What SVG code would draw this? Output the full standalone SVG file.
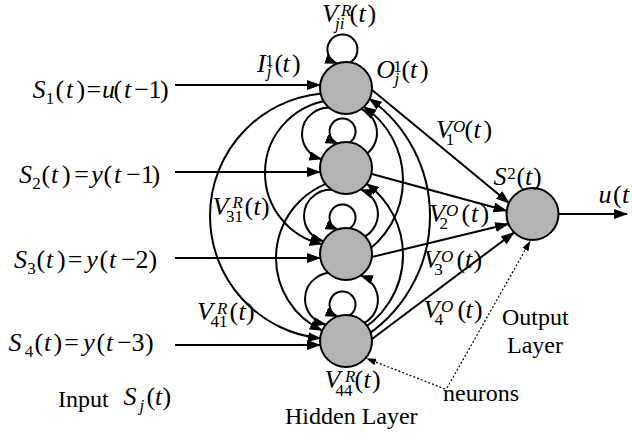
<svg xmlns="http://www.w3.org/2000/svg" width="632" height="439" viewBox="0 0 632 439">
<style>
text { font-family: "Liberation Serif", "Times New Roman", serif; font-size: 24px; fill: #000; }
.m { font-size: 26px; }
.i { font-style: italic; }
.s { font-size: 17px; }
.node { fill: #b3b3b3; stroke: #000; stroke-width: 2; }
.ln { fill: none; stroke: #000; stroke-width: 2; marker-end: url(#ah); }
.arc { fill: none; stroke: #000; stroke-width: 2; marker-end: url(#am); }
.dot { fill: none; stroke: #000; stroke-width: 1.2; stroke-dasharray: 2 2; marker-end: url(#ad); }
</style>
<defs>
<marker id="ah" markerUnits="userSpaceOnUse" viewBox="0 0 14 10" markerWidth="14" markerHeight="10" refX="13" refY="5" orient="auto"><path d="M0,0 L14,5 L0,10 Z" fill="#000"/></marker>
<marker id="am" markerUnits="userSpaceOnUse" viewBox="0 0 13 9.5" markerWidth="13" markerHeight="9.5" refX="12" refY="4.75" orient="auto"><path d="M0,0 L13,4.75 L0,9.5 Z" fill="#000"/></marker>
<marker id="ad" markerUnits="userSpaceOnUse" viewBox="0 0 10 7" markerWidth="10" markerHeight="7" refX="9.5" refY="3.5" orient="auto"><path d="M0,0 L10,3.5 L0,7 Z" fill="#000"/></marker>
</defs>

<g id="connectors">
<path class="ln" d="M175,85 H320"/>
<path class="ln" d="M175,172 H320"/>
<path class="ln" d="M175,258 H320"/>
<path class="ln" d="M175,345 H320"/>
<path class="ln" d="M360,80.1 L509.1,203.1"/>
<path class="ln" d="M360,170.7 L506.5,210.8"/>
<path class="ln" d="M360,259.9 L508.1,224"/>
<path class="ln" d="M360,348 L514,232.5"/>
<path class="ln" d="M558,214 H627"/>
<path class="arc" d="M333,93 A123,123 0 0,0 210,216 A123,123 0 0,0 320.1,338.3"/>
<path class="arc" d="M338,100 A73,73 0 0,0 265,173 A73,73 0 0,0 321.6,244.1"/>
<path class="arc" d="M356,178 A80,80 0 0,0 276,258 A80,80 0 0,0 321.8,330.3"/>
<path class="arc" d="M336.9,109.6 A26,26 0 0,0 302,134 A26,26 0 0,0 321.3,159.1"/>
<path class="arc" d="M338.9,191.6 A26,26 0 0,0 304,216 A26,26 0 0,0 323.3,241.1"/>
<path class="arc" d="M339.9,274.6 A26,26 0 0,0 305,299 A26,26 0 0,0 325.6,324.4"/>
<path class="arc" d="M358,340.7 A144,144 0 0,0 430,216 A144,144 0 0,0 369.6,98.8"/>
<path class="arc" d="M359,256.2 A88,88 0 0,0 403,180 A88,88 0 0,0 364.2,107"/>
<path class="arc" d="M352.2,334.8 A88,88 0 0,0 403,255 A88,88 0 0,0 366.7,183.8"/>
<path class="arc" d="M359.9,157.4 A26,26 0 0,0 362,109.4"/>
<path class="arc" d="M360.9,238.4 A26,26 0 0,0 360.9,189.6"/>
<path class="arc" d="M360.9,324.4 A26,26 0 0,0 360.9,275.6"/>
<path class="arc" d="M350,62.5 A15,15 0 1,0 337,63.5"/>
<path class="arc" d="M349.5,142.5 A13,13 0 1,0 337.5,143.5"/>
<path class="arc" d="M349.5,228.5 A13,13 0 1,0 337.5,229.5"/>
<path class="arc" d="M349.5,315.5 A13,13 0 1,0 337.5,316.5"/>
<path class="dot" d="M445,389 L366.7,358.5"/>
<path class="dot" d="M447,388 L530.1,241.3"/>
</g>

<g id="hidden1"><circle class="node" cx="346" cy="88" r="26"/></g>
<g id="hidden2"><circle class="node" cx="346" cy="168" r="26"/></g>
<g id="hidden3"><circle class="node" cx="346" cy="254" r="26"/></g>
<g id="hidden4"><circle class="node" cx="346" cy="341" r="26"/></g>
<g id="output"><circle class="node" cx="532.5" cy="214" r="26"/></g>

<g id="labels">
<text class="m" y="98"><tspan class="i" x="32.5">S</tspan><tspan class="s" x="45.7" y="104">1</tspan><tspan x="55.4" y="98">(</tspan><tspan class="i" x="66">t</tspan><tspan x="76.4">)</tspan><tspan x="86.6">=</tspan><tspan class="i" x="102">u</tspan><tspan x="113.4">(</tspan><tspan class="i" x="124">t</tspan><tspan x="134.2">−</tspan><tspan x="148.4">1</tspan><tspan x="159.9">)</tspan></text>
<text class="m" y="183"><tspan class="i" x="19">S</tspan><tspan class="s" x="32.3" y="189">2</tspan><tspan x="41.4" y="183">(</tspan><tspan class="i" x="51">t</tspan><tspan x="61.9">)</tspan><tspan x="74.2">=</tspan><tspan class="i" x="91.3">y</tspan><tspan x="103.4">(</tspan><tspan class="i" x="114">t</tspan><tspan x="126.2">−</tspan><tspan x="140.9">1</tspan><tspan x="151.4">)</tspan></text>
<text class="m" y="268"><tspan class="i" x="14">S</tspan><tspan class="s" x="27.3" y="274">3</tspan><tspan x="36.4" y="268">(</tspan><tspan class="i" x="46">t</tspan><tspan x="56.9">)</tspan><tspan x="67.7">=</tspan><tspan class="i" x="86.3">y</tspan><tspan x="99.4">(</tspan><tspan class="i" x="109">t</tspan><tspan x="121.2">−</tspan><tspan x="135.5">2</tspan><tspan x="148.4">)</tspan></text>
<text class="m" y="351"><tspan class="i" x="8.5">S</tspan><tspan class="s" x="24.7" y="357">4</tspan><tspan x="34.4" y="351">(</tspan><tspan class="i" x="44">t</tspan><tspan x="53.4">)</tspan><tspan x="64.2">=</tspan><tspan class="i" x="83.3">y</tspan><tspan x="96.4">(</tspan><tspan class="i" x="106">t</tspan><tspan x="117.2">−</tspan><tspan x="131.5">3</tspan><tspan x="144.9">)</tspan></text>

<text class="m" y="72"><tspan class="i" x="257">I</tspan><tspan class="s" x="265.2" y="66">1</tspan><tspan class="s i" x="266.8" y="77">j</tspan><tspan x="274.4" y="72">(</tspan><tspan class="i" x="282.5">t</tspan><tspan x="291.9">)</tspan></text>
<text class="m" y="22"><tspan class="i" x="322">V</tspan><tspan class="s i" x="341" y="16">R</tspan><tspan class="s i" x="335" y="29">ji</tspan><tspan x="349.4" y="22">(</tspan><tspan class="i" x="358.5">t</tspan><tspan x="367.4">)</tspan></text>
<text class="m" y="78"><tspan class="i" x="376.2">O</tspan><tspan class="s" x="393.2" y="72">1</tspan><tspan class="s i" x="394.4" y="84">j</tspan><tspan x="401.4" y="78">(</tspan><tspan class="i" x="410">t</tspan><tspan x="419.9">)</tspan></text>
<text class="m" y="138"><tspan class="i" x="436">V</tspan><tspan class="s i" x="453" y="132">O</tspan><tspan class="s" x="445.7" y="145">1</tspan><tspan x="464.4" y="138">(</tspan><tspan class="i" x="473.5">t</tspan><tspan x="483.4">)</tspan></text>
<text class="m" y="185"><tspan class="i" x="493.5">S</tspan><tspan class="s" x="507.2" y="179">2</tspan><tspan x="516.4" y="185">(</tspan><tspan class="i" x="525">t</tspan><tspan x="532.9">)</tspan></text>
<text class="m" y="203"><tspan class="i" x="598.5">u</tspan><tspan x="612.9">(</tspan><tspan class="i" x="622">t</tspan><tspan x="631">)</tspan></text>
<text class="m" y="222"><tspan class="i" x="429">V</tspan><tspan class="s i" x="446" y="216">O</tspan><tspan class="s" x="439.5" y="229">2</tspan><tspan x="461.5" y="222">(</tspan><tspan class="i" x="471">t</tspan><tspan x="480.5">)</tspan></text>
<text class="m" y="268"><tspan class="i" x="423.5">V</tspan><tspan class="s i" x="441.1" y="262">O</tspan><tspan class="s" x="434.2" y="275">3</tspan><tspan x="456.4" y="268">(</tspan><tspan class="i" x="465">t</tspan><tspan x="473.4">)</tspan></text>
<text class="m" y="318"><tspan class="i" x="423.5">V</tspan><tspan class="s i" x="441.1" y="312">O</tspan><tspan class="s" x="434.7" y="325">4</tspan><tspan x="457.4" y="318">(</tspan><tspan class="i" x="465.5">t</tspan><tspan x="474">)</tspan></text>
<text class="m" y="215"><tspan class="i" x="212.5">V</tspan><tspan class="s i" x="232.4" y="208">R</tspan><tspan class="s" x="226" y="222">31</tspan><tspan x="244.4" y="215">(</tspan><tspan class="i" x="253.5">t</tspan><tspan x="260.9">)</tspan></text>
<text class="m" y="320"><tspan class="i" x="197">V</tspan><tspan class="s i" x="216.9" y="314">R</tspan><tspan class="s" x="210.5" y="327">41</tspan><tspan x="229.4" y="320">(</tspan><tspan class="i" x="238.5">t</tspan><tspan x="245.9">)</tspan></text>
<text class="m" y="388"><tspan class="i" x="324.5">V</tspan><tspan class="s i" x="344.9" y="382">R</tspan><tspan class="s" x="335.5" y="396">44</tspan><tspan x="354.4" y="388">(</tspan><tspan class="i" x="363.5">t</tspan><tspan x="371.9">)</tspan></text>

<text x="58" y="407">Input</text>
<text class="m" y="405"><tspan class="i" x="123.5">S</tspan><tspan class="s i" x="139.4" y="411">j</tspan><tspan x="146.4" y="405">(</tspan><tspan class="i" x="155">t</tspan><tspan x="162.4">)</tspan></text>
<text x="285" y="424">Hidden Layer</text>
<text x="502" y="325">Output</text>
<text x="507" y="353">Layer</text>
<text x="443" y="401">neurons</text>
</g>
</svg>
